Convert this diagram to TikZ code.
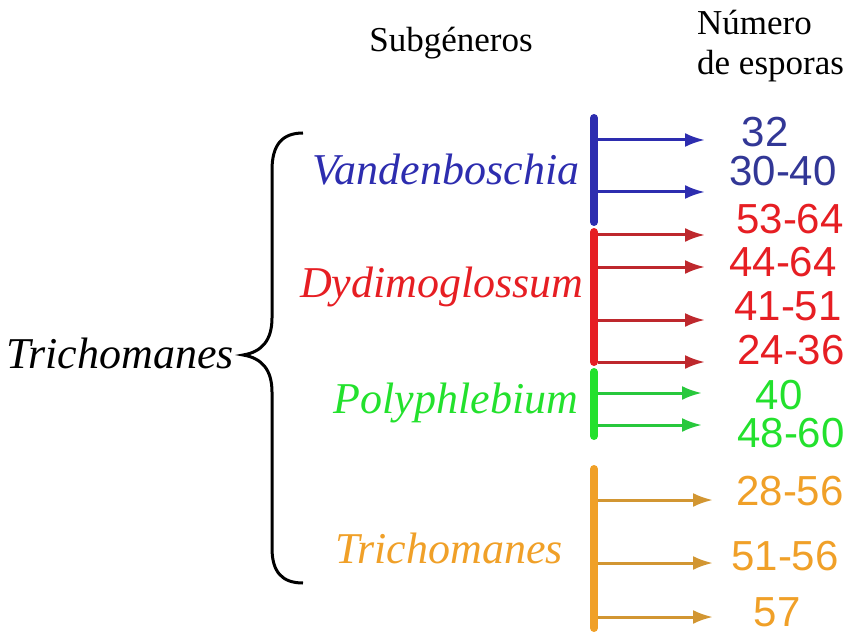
\documentclass[tikz,border=0pt]{standalone}
\usepackage{fontspec}
\setmainfont{Liberation Serif}
\setsansfont{Liberation Sans}
\usetikzlibrary{arrows.meta}
\definecolor{vandblue}{RGB}{45, 45, 175}
\definecolor{numblue}{RGB}{50, 55, 150}
\definecolor{dydred}{RGB}{230, 30, 35}
\definecolor{arrred}{RGB}{190, 40, 45}
\definecolor{polygreen}{RGB}{35, 225, 45}
\definecolor{arrgreen}{RGB}{40, 200, 60}
\definecolor{trorange}{RGB}{240, 160, 40}
\definecolor{arrorange}{RGB}{210, 150, 50}

\begin{document}
\begin{tikzpicture}[x=1pt, y=-1pt,
    header/.style={font=\fontsize{35}{40}\selectfont, inner sep=0pt, align=left},
    genus/.style={font=\fontsize{44}{48}\selectfont\itshape, inner sep=0pt, anchor=base},
    count/.style={font=\sffamily\fontsize{42}{46}\selectfont, inner sep=0pt},
    bar/.style={line width=8pt, line cap=round},
    arrow/.style={-{Latex[length=20pt, width=14pt]}, line width=3pt}
]
    \useasboundingbox (0,0) rectangle (854,639);

    % headings
    \node[header, anchor=base] (subgen) at (451,52) {Subgéneros};
    \node[header, anchor=north west] (numero) at (697,10) {Número\\de esporas};

    % genus and its brace
    \node[genus] (genus) at (120,368) {Trichomanes};
    \draw[line width=3pt] (303,133) .. controls (282,133) and (272,145) .. (272,170) -- (272,318)
        .. controls (272,340) and (262,352) .. (243,355)
        .. controls (262,358) and (272,370) .. (272,392) -- (272,548)
        .. controls (272,572) and (282,583) .. (303,583);

    % subgenera
    \node[genus, text=vandblue] (vand) at (446,185) {Vandenboschia};
    \node[genus, text=dydred] (dydi) at (442,297) {Dydimoglossum};
    \node[genus, text=polygreen] (poly) at (456,413) {Polyphlebium};
    \node[genus, text=trorange] (tric) at (449,563) {Trichomanes};

    % bars
    \coordinate (vtop) at (594,118);  \coordinate (vbot) at (594,222);
    \coordinate (dtop) at (594,232);  \coordinate (dbot) at (594,362);
    \coordinate (ptop) at (594,372);  \coordinate (pbot) at (594,436);
    \coordinate (ttop) at (594,469);  \coordinate (tbot) at (594,628);
    \draw[bar, vandblue] (vtop) -- (vbot);
    \draw[bar, dydred] (dtop) -- (dbot);
    \draw[bar, polygreen] (ptop) -- (pbot);
    \draw[bar, trorange] (ttop) -- (tbot);

    % spore counts
    \node[count, text=numblue] (n32) at (765,132) {32};
    \node[count, text=numblue] (n3040) at (783,171) {30-40};
    \node[count, text=dydred] (n5364) at (790,219) {53-64};
    \node[count, text=dydred] (n4464) at (783,262) {44-64};
    \node[count, text=dydred] (n4151) at (788,306) {41-51};
    \node[count, text=dydred] (n2436) at (791,350) {24-36};
    \node[count, text=polygreen] (n40) at (779,395) {40};
    \node[count, text=polygreen] (n4860) at (791,433) {48-60};
    \node[count, text=trorange] (n2856) at (790,491) {28-56};
    \node[count, text=trorange] (n5156) at (785,556) {51-56};
    \node[count, text=trorange] (n57) at (777,612) {57};

    % arrows
    \coordinate (a1) at (598,140);  \coordinate (b1) at (705,140);
    \coordinate (a2) at (598,192);  \coordinate (b2) at (705,192);
    \coordinate (a3) at (598,235);  \coordinate (b3) at (705,235);
    \coordinate (a4) at (598,267);  \coordinate (b4) at (705,267);
    \coordinate (a5) at (598,320);  \coordinate (b5) at (705,320);
    \coordinate (a6) at (598,362);  \coordinate (b6) at (705,362);
    \coordinate (a7) at (598,393);  \coordinate (b7) at (702,393);
    \coordinate (a8) at (598,425);  \coordinate (b8) at (702,425);
    \coordinate (a9) at (598,500);  \coordinate (b9) at (713,500);
    \coordinate (a10) at (598,563); \coordinate (b10) at (713,563);
    \coordinate (a11) at (598,617); \coordinate (b11) at (713,617);
    \draw[arrow, vandblue] (a1) -- (b1);
    \draw[arrow, vandblue] (a2) -- (b2);
    \draw[arrow, arrred] (a3) -- (b3);
    \draw[arrow, arrred] (a4) -- (b4);
    \draw[arrow, arrred] (a5) -- (b5);
    \draw[arrow, arrred] (a6) -- (b6);
    \draw[arrow, arrgreen] (a7) -- (b7);
    \draw[arrow, arrgreen] (a8) -- (b8);
    \draw[arrow, arrorange] (a9) -- (b9);
    \draw[arrow, arrorange] (a10) -- (b10);
    \draw[arrow, arrorange] (a11) -- (b11);
\end{tikzpicture}
\end{document}
